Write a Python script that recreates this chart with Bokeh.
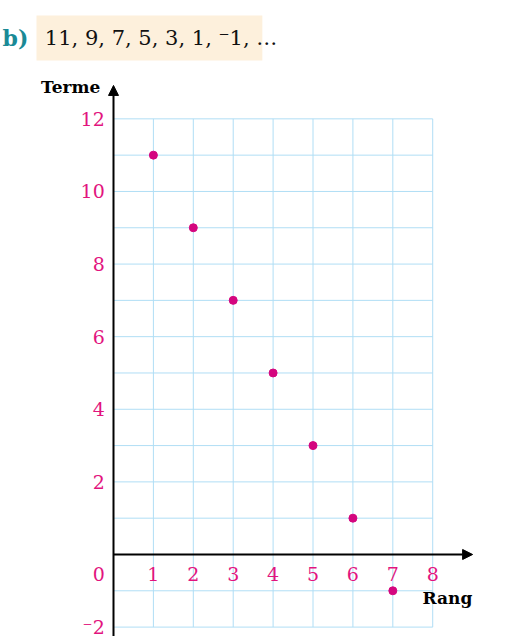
from bokeh.plotting import figure
from bokeh.models import Arrow, NormalHead, Label
from bokeh.embed import file_html
from bokeh.resources import INLINE

rang = [1, 2, 3, 4, 5, 6, 7]
terme = [11, 9, 7, 5, 3, 1, -1]
x_ticks = [1, 2, 3, 4, 5, 6, 7, 8]
y_ticks = [2, 4, 6, 8, 10, 12]
y_tick_labels = ["2", "4", "6", "8", "10", "12"]
title_text = "11, 9, 7, 5, 3, 1, \u207b1, \u2026"

PINK = "#e2147e"
SERIF = "DejaVu Serif"

p = figure(width=503, height=636, output_backend="svg", toolbar_location=None,
           x_range=(-2.832, 9.774), y_range=(-2.259, 15.26), min_border=0)
p.axis.visible = False
p.grid.visible = False
p.outline_line_color = None

xmin, xmax, ymin, ymax = 0, 8, -2, 12
gc = "#b0def5"
p.segment(x0=list(range(1, xmax + 1)), y0=ymin, x1=list(range(1, xmax + 1)), y1=ymax, line_color=gc, line_width=1)
p.segment(x0=xmin, y0=list(range(ymin, ymax + 1)), x1=xmax, y1=list(range(ymin, ymax + 1)), line_color=gc, line_width=1)

p.add_layout(Arrow(end=NormalHead(size=10, fill_color="black", line_color="black"),
                   x_start=0, y_start=-2.37, x_end=0, y_end=12.92, line_width=2))
p.add_layout(Arrow(end=NormalHead(size=10, fill_color="black", line_color="black"),
                   x_start=0, y_start=0, x_end=9.0, y_end=0, line_width=2))

p.scatter(rang, terme, size=8, color="#d4067f")

p.text(x=x_ticks, y=[-0.55] * len(x_ticks), text=[str(t) for t in x_ticks],
       text_align="center", text_baseline="middle", text_color=PINK,
       text_font_size="19px", text_font={"value": SERIF})
p.text(x=[-0.22] * len(y_ticks), y=y_ticks, text=y_tick_labels,
       text_align="right", text_baseline="middle", text_color=PINK,
       text_font_size="19px", text_font={"value": SERIF})
p.text(x=[-0.22, -0.22], y=[-0.55, -2], text=["0", "\u207b2"],
       text_align="right", text_baseline="middle", text_color=PINK,
       text_font_size="19px", text_font={"value": SERIF})

p.add_layout(Label(x=-0.33, y=12.87, text="Terme", text_align="right", text_baseline="middle",
                   text_color="black", text_font=SERIF, text_font_style="bold", text_font_size="17px"))
p.add_layout(Label(x=8.37, y=-1.21, text="Rang", text_align="center", text_baseline="middle",
                   text_color="black", text_font=SERIF, text_font_style="bold", text_font_size="17px"))

p.quad(left=-1.93, right=3.73, top=14.85, bottom=13.61, fill_color="#fdf0dc", line_color=None)
p.add_layout(Label(x=-2.78, y=14.24, text="b)", text_baseline="middle", text_color="#1a8a96",
                   text_font=SERIF, text_font_style="bold", text_font_size="22px"))
p.add_layout(Label(x=-1.72, y=14.24, text=title_text, text_baseline="middle", text_color="#111111",
                   text_font=SERIF, text_font_size="21px"))

open("out.html", "w").write(file_html(p, INLINE))
